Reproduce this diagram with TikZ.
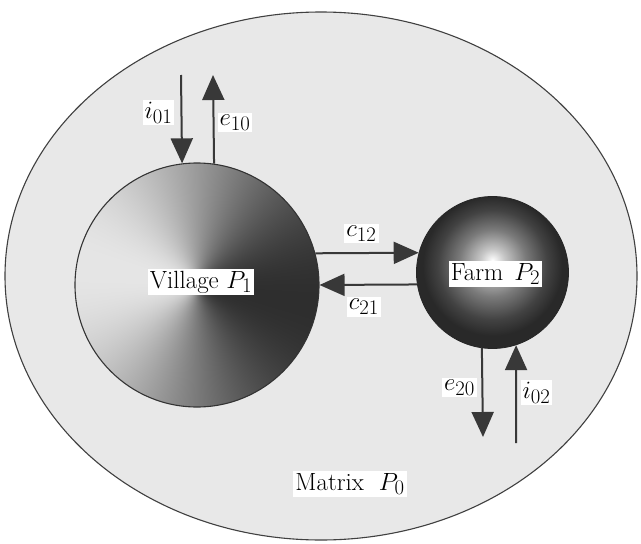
\documentclass[tikz,border=0pt]{standalone}
\usetikzlibrary{shapes.geometric,arrows.meta}
\pgfdeclarefunctionalshading{villageshade}{\pgfpoint{0bp}{0bp}}{\pgfpoint{100bp}{100bp}}{}{
  50.013 sub exch 50.017 sub atan 10 add cos -0.36 mul 0.54 add dup dup
}
\pgfdeclareradialshading{farmshade}{\pgfpoint{0bp}{4bp}}{color(0bp)=(white); color(4bp)=(black!22); color(11bp)=(black!52); color(18bp)=(black!74); color(23bp)=(black!84); color(50bp)=(black!84)}
\begin{document}
\begin{tikzpicture}[x=1pt,y=-1pt,
  flow/.style={draw=black!78, line width=2pt, -{Triangle[width=22pt,length=25pt]}},
  flowlab/.style={fill=white, inner sep=2pt, font=\fontsize{24.88}{28}\selectfont},
  patchlab/.style={fill=white, inner sep=2pt, font=\fontsize{24.88}{28}\selectfont}]
\useasboundingbox (0,0) rectangle (641,544);
\fill[white] (0,0) rectangle (641,544);
\node (matrix) [ellipse, draw=black!75, line width=1.1pt, fill=black!9,
  minimum width=632pt, minimum height=528pt, inner sep=0pt] at (321,276) {};
\node (village) [circle, draw=black!80, line width=1.1pt, shading=villageshade,
  minimum size=244pt, inner sep=0pt] at (197,285) {};
\node (farm) [circle, draw=black!85, line width=0.8pt, shading=farmshade,
  minimum size=152pt, inner sep=0pt] at (492.5,272.5) {};
% labels of patches
\node (vlab) [patchlab] at (201,282) {Village $P_1$};
\node (flab) [patchlab] at (495.5,274) {Farm\hspace{0.45em}$P_2$};
\node (mlab) [patchlab] at (350,484) {Matrix\hspace{0.6em}$P_0$};
% exchanges with matrix
\coordinate (i01s) at (181,75);
\coordinate (e10e) at (213,75);
\coordinate (e20e) at (483,437);
\coordinate (i02s) at (516,443);
\draw[flow] (i01s) -- (village.97.5);
\draw[flow] (village.82.5) -- (e10e);
\draw[flow] (farm.262.8) -- (e20e);
\draw[flow] (i02s) -- (farm.288);
% exchanges between patches
\draw[flow] (village.15) -- (farm.165);
\draw[flow] (farm.189.5) -- (village.0);
% flow labels
\node (li01) [flowlab] at (158.5,112.5) {$i_{01}$};
\node (le10) [flowlab] at (235,122.5) {$e_{10}$};
\node (lc12) [flowlab] at (361.5,233.5) {$c_{12}$};
\node (lc21) [flowlab] at (364,307) {$c_{21}$};
\node (le20) [flowlab] at (459.5,387.5) {$e_{20}$};
\node (li02) [flowlab] at (536.5,392.5) {$i_{02}$};
\end{tikzpicture}
\end{document}
